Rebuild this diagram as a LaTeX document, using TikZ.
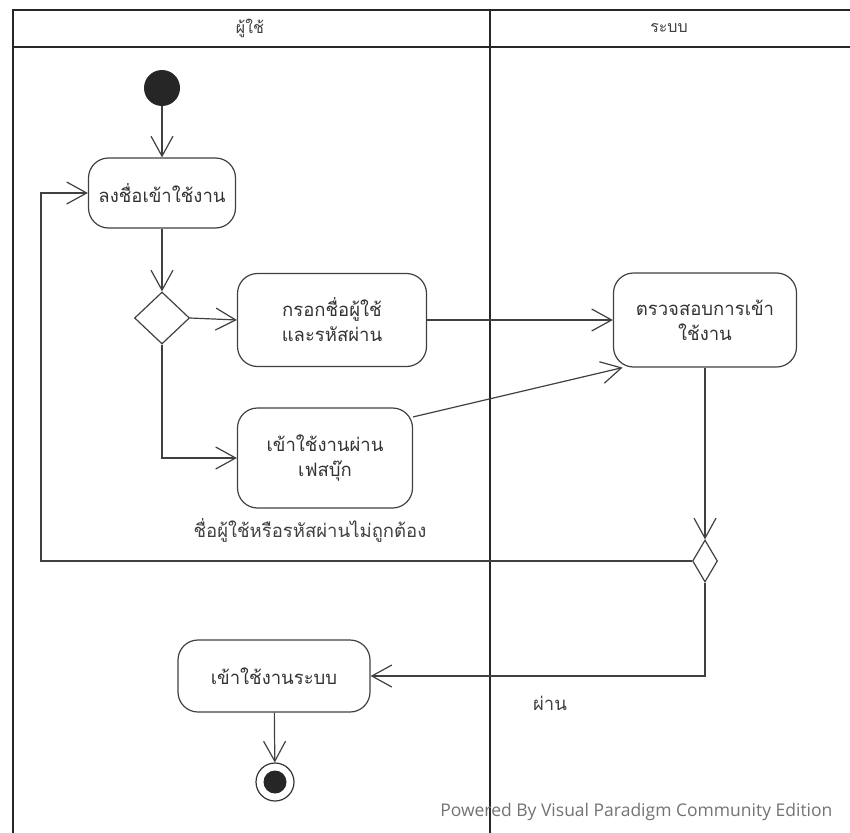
\documentclass[tikz,border=0pt]{standalone}
\usepackage{fontspec}
\newfontfamily\thaifont[Script=Thai]{Loma}
\newfontfamily\vpfont{Open Sans}
\usetikzlibrary{positioning,arrows.meta,shapes.geometric}

\begin{document}
\begin{tikzpicture}[
  x=1pt, y=-1pt,
  font=\thaifont\fontsize{18.5}{25}\selectfont,
  action/.style={draw=black!75, rounded corners=20pt, align=center, line width=1.2pt, text=black!80},
  choice/.style={draw=black!75, diamond, inner sep=0pt, line width=1.2pt},
  arrow/.style={-{Straight Barb[length=20pt,width=22pt]}, line width=1.2pt, draw=black!75},
  lane/.style={line width=2.6pt, black!85},
  guard/.style={text=black!75}
]
\useasboundingbox (0,0) rectangle (850,832);

% swimlanes
\draw[lane] (850,10) -- (13,10) -- (13,834);
\draw[lane] (13,47) -- (850,47);
\draw[lane] (490,10) -- (490,834);
\node[font=\thaifont\fontsize{16}{20}\selectfont, text=black!75] (laneuser) at (250,28) {ผู้ใช้};
\node[font=\thaifont\fontsize{16}{20}\selectfont, text=black!75] (lanesys) at (669,28) {ระบบ};

% nodes
\node[circle, fill=black!85, minimum size=36pt, inner sep=0pt] (start) at (162,88) {};
\node[action, minimum width=147pt, minimum height=70pt] (login) at (162,193) {ลงชื่อเข้าใช้งาน};
\node[choice, minimum width=55pt, minimum height=52pt] (dec1) at (162,318) {};
\node[action, minimum width=189pt, minimum height=93pt] (fill) at (332,320) {กรอกชื่อผู้ใช้\\และรหัสผ่าน};
\node[action, minimum width=175pt, minimum height=100pt] (fb) at (325,458) {เข้าใช้งานผ่าน\\เฟสบุ๊ก};
\node[action, minimum width=183pt, minimum height=94pt] (check) at (705,320) {ตรวจสอบการเข้า\\ใช้งาน};
\node[choice, minimum width=25pt, minimum height=42pt] (dec2) at (705,561) {};
\node[action, minimum width=192pt, minimum height=72pt] (enter) at (274,676) {เข้าใช้งานระบบ};
\node[circle, draw=black!80, line width=1.2pt, minimum size=38pt, inner sep=0pt] (stop) at (275,782) {};
\node[circle, fill=black!85, minimum size=23pt, inner sep=0pt] at (stop) {};
\coordinate (loopx) at (41,193);

% guards
\node[guard] (wrong) at (310,530) {ชื่อผู้ใช้หรือรหัสผ่านไม่ถูกต้อง};
\node[guard] (pass) at (550,703) {ผ่าน};

% flows
\draw[arrow] (start) -- (login);
\draw[arrow] (login) -- (dec1);
\draw[arrow] (dec1.east) -- (fill.west);
\draw[arrow] (dec1.south) |- (fb.west);
\draw[arrow] (fill.east) -- (fill.east -| check.west);
\draw[arrow] (fb.25) -- (check.210);
\draw[arrow] (check.south) -- (dec2.north);
\draw[arrow] (dec2.west) -- (dec2.west -| loopx) -- (loopx) -- (login.west);
\draw[arrow] (dec2.south) |- (enter.east);
\draw[arrow] (enter) -- (stop);

\node[font=\vpfont\fontsize{17.5}{20}\selectfont, text=black!55, anchor=east] (vp) at (836,812) {Powered By Visual Paradigm Community Edition};
\end{tikzpicture}
\end{document}
